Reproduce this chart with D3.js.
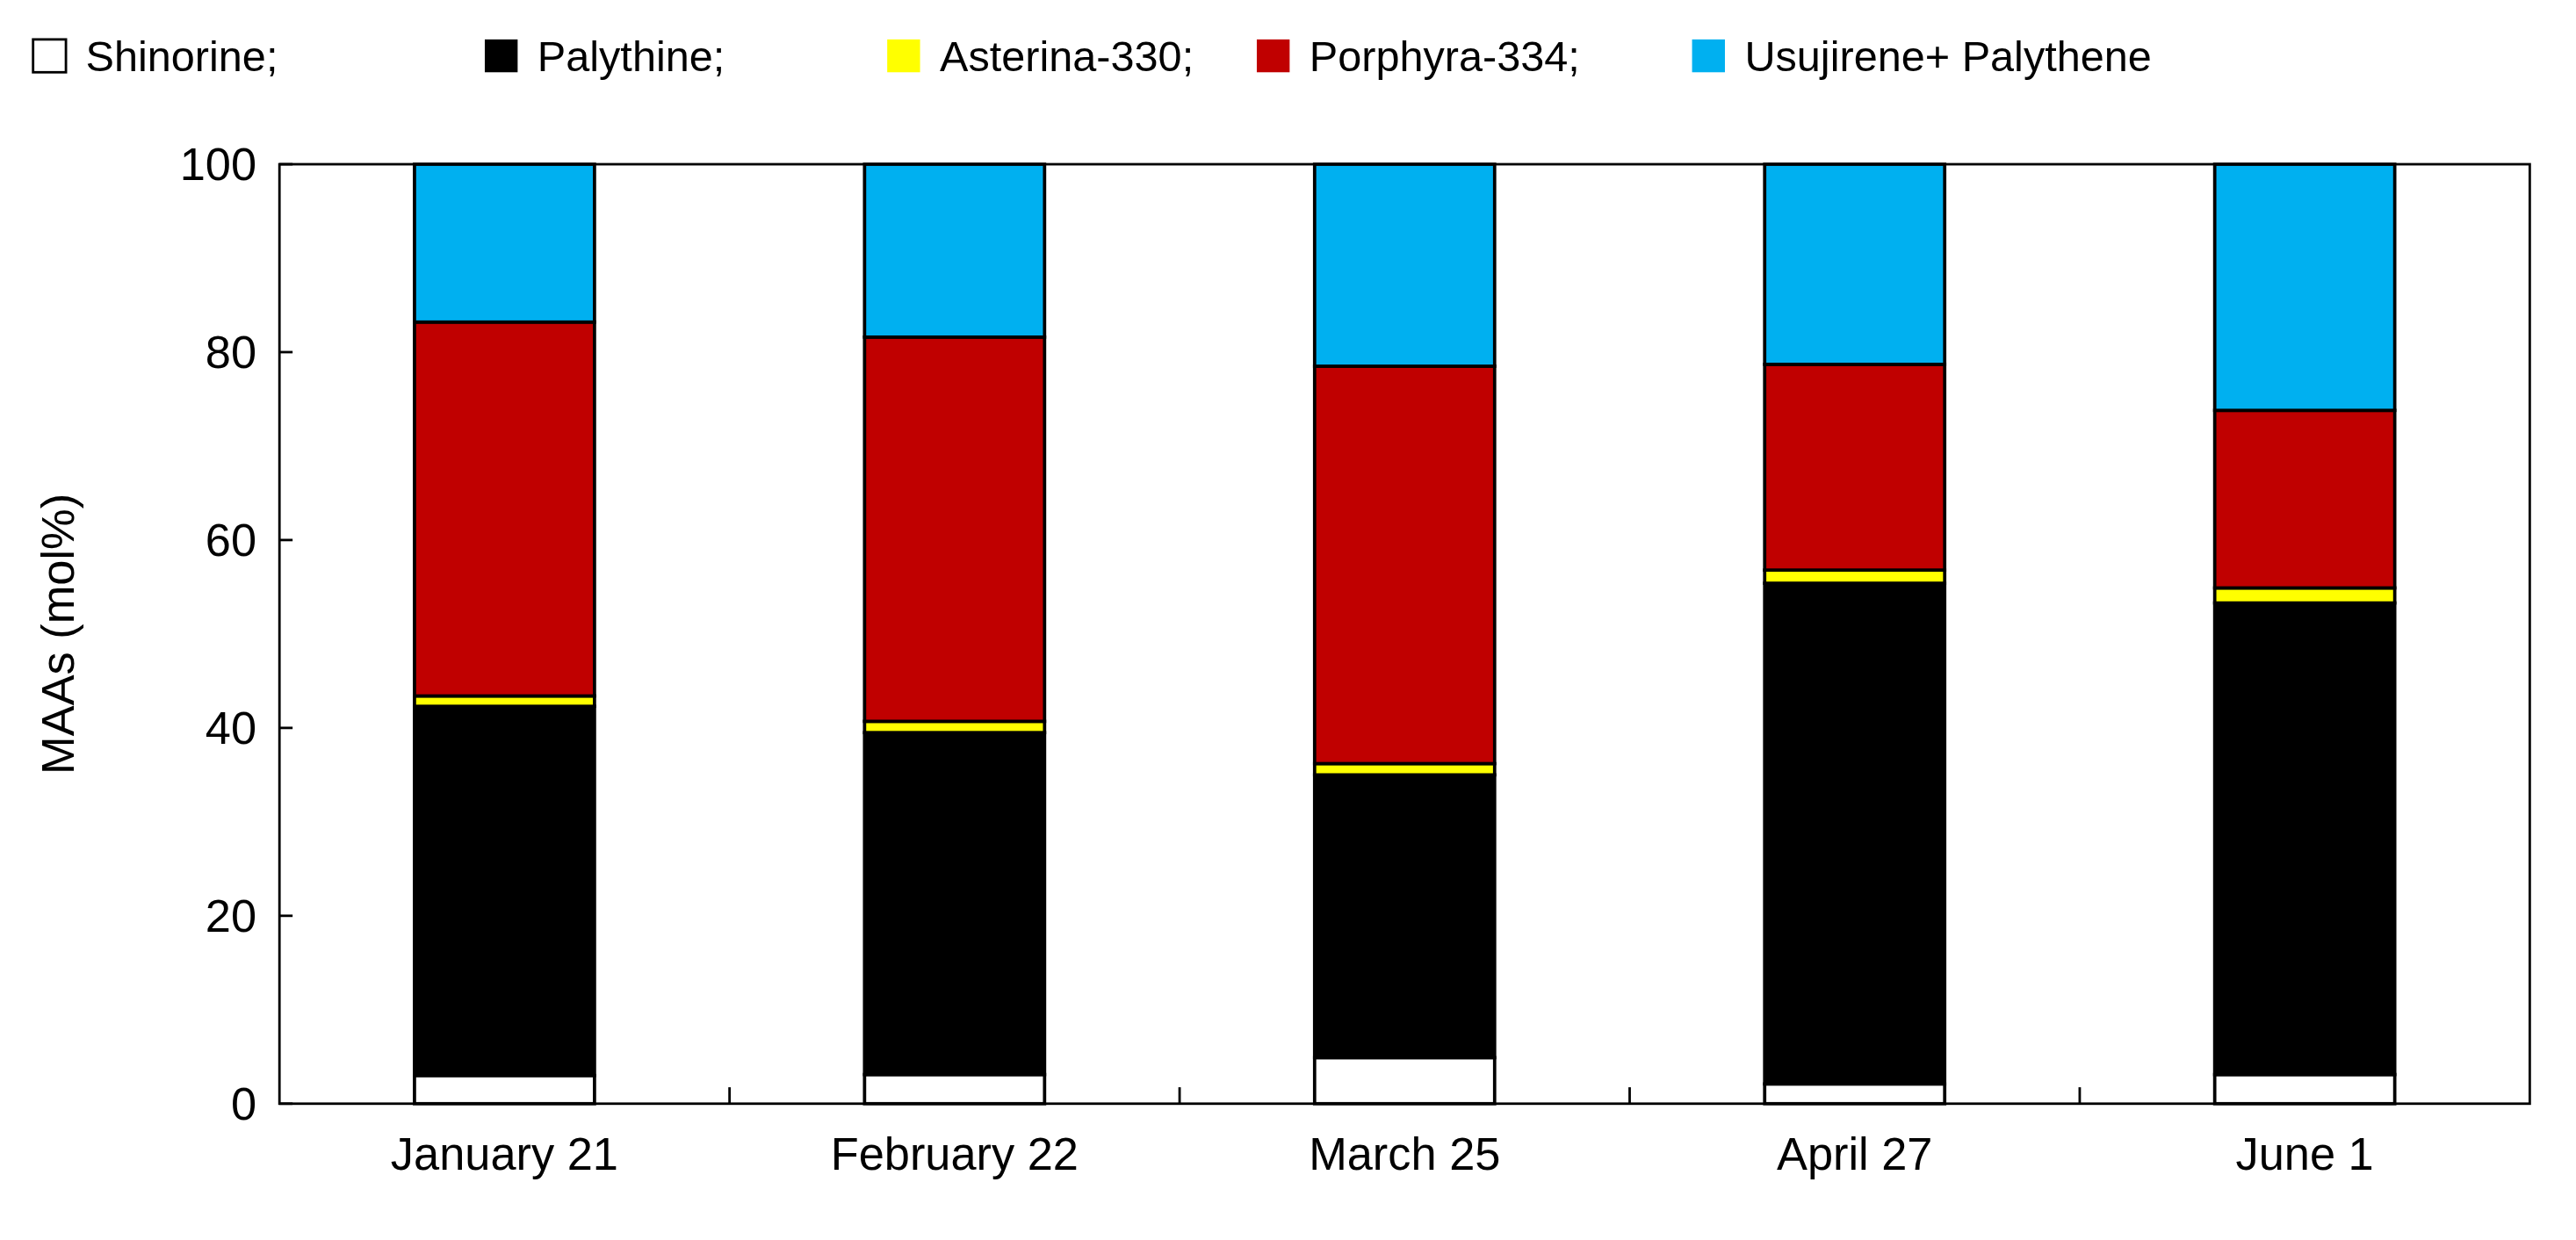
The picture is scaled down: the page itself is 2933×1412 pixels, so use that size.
<!DOCTYPE html>
<html><head><meta charset="utf-8">
<script src="https://cdn.jsdelivr.net/npm/d3@7"></script>
<style>html,body{margin:0;padding:0;background:#fff}</style>
</head><body>
<script>
const categories = ["January 21","February 22","March 25","April 27","June 1"];
const seriesNames = ["Shinorine","Palythine","Asterina-330","Porphyra-334","Usujirene+ Palythene"];
const seriesColors = ["#ffffff","#000000","#ffff00","#c00000","#00b0f0"];
const shinorine = [3.0,3.1,4.9,2.1,3.1];
const palythine = [39.3,36.4,30.1,53.3,50.2];
const asterina = [1.1,1.2,1.2,1.4,1.6];
const porphyra = [39.8,40.9,42.3,21.9,18.9];
const usujirene = [16.8,18.4,21.5,21.3,26.2];
const yTicks = [0,20,40,60,80,100];

const W=1568,H=755;
const svg=d3.select("body").append("svg").attr("width",2933).attr("height",1412)
  .attr("viewBox",`0 0 ${W} ${H}`).style("font-family","Arial, 'Liberation Sans', sans-serif");
const L=170,R=1540,T=100,B=672;
const x=d3.scaleBand().domain(categories).range([L,R]).paddingInner(0.6).paddingOuter(0.3);
const xb=d3.scaleBand().domain(categories).range([L,R]);
const y=d3.scaleLinear().domain([0,100]).range([B,T]);
const rows=categories.map((c,i)=>{const o={cat:c};[shinorine,palythine,asterina,porphyra,usujirene].forEach((a,j)=>o[seriesNames[j]]=a[i]);return o;});
const stack=d3.stack().keys(seriesNames)(rows);
svg.append("rect").attr("x",L).attr("y",T).attr("width",R-L).attr("height",B-T).attr("fill","none").attr("stroke","#000").attr("stroke-width",1.5);
stack.forEach((s,j)=>{
  svg.append("g").selectAll("rect").data(s).join("rect")
   .attr("x",d=>x(d.data.cat)).attr("width",x.bandwidth())
   .attr("y",d=>y(Math.min(d[1],100))).attr("height",d=>y(d[0])-y(Math.min(d[1],100)))
   .attr("fill",seriesColors[j]).attr("stroke","#000").attr("stroke-width",2);
});
// y ticks
yTicks.forEach(t=>{
  svg.append("line").attr("x1",L).attr("x2",L+8).attr("y1",y(t)).attr("y2",y(t)).attr("stroke","#000").attr("stroke-width",1.5);
  svg.append("text").attr("x",L-14).attr("y",y(t)).attr("dy","0.35em").attr("text-anchor","end").attr("font-size",28).text(t);
});
// x ticks between categories
categories.slice(1).forEach(c=>{
  svg.append("line").attr("x1",xb(c)).attr("x2",xb(c)).attr("y1",B).attr("y2",B-10).attr("stroke","#000").attr("stroke-width",1.5);
});
categories.forEach(c=>{
  svg.append("text").attr("x",x(c)+x.bandwidth()/2).attr("y",712).attr("text-anchor","middle").attr("font-size",28).text(c);
});
svg.append("text").attr("transform",`translate(45,${(T+B)/2}) rotate(-90)`).attr("text-anchor","middle").attr("font-size",28).text("MAAs (mol%)");
// legend
const lx=[20,295,540,765,1030];
seriesNames.forEach((n,j)=>{
  svg.append("rect").attr("x",lx[j]).attr("y",24).attr("width",20).attr("height",20).attr("fill",seriesColors[j]).attr("stroke",j==0?"#000":"none").attr("stroke-width",1.5);
  svg.append("text").attr("x",lx[j]+32).attr("y",34).attr("dy","0.35em").attr("font-size",26).text(n+(j<4?";":""));
});
</script>
</body></html>
